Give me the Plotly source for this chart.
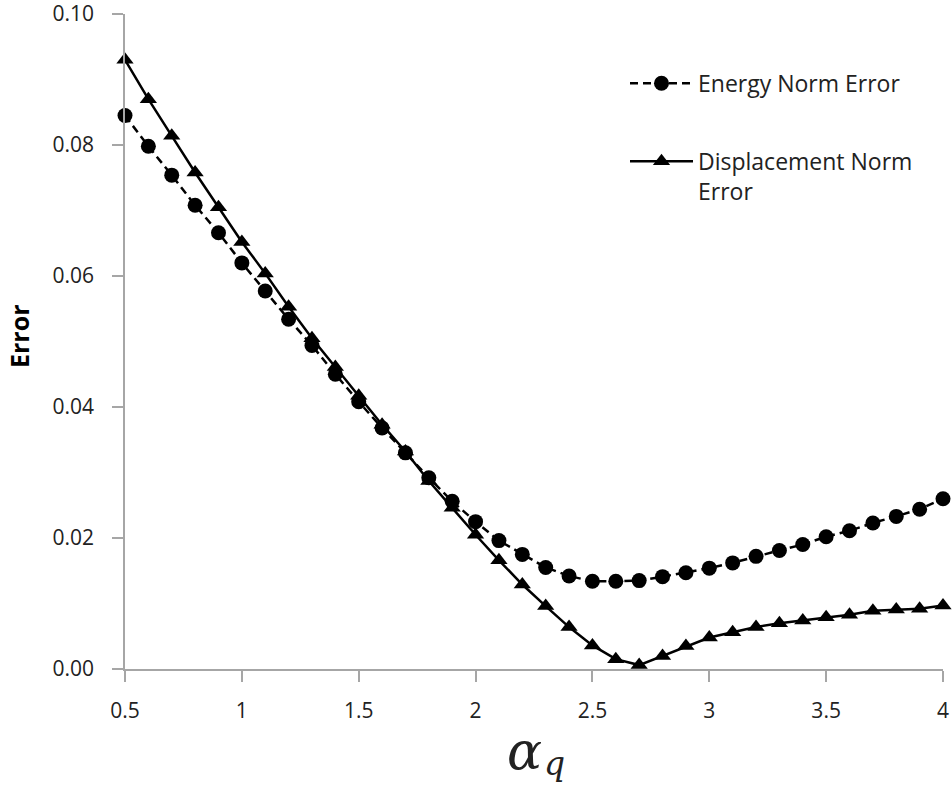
import plotly.graph_objects as go

alpha = [0.5, 0.6, 0.7, 0.8, 0.9, 1.0, 1.1, 1.2, 1.3, 1.4, 1.5, 1.6, 1.7, 1.8, 1.9,
         2.0, 2.1, 2.2, 2.3, 2.4, 2.5, 2.6, 2.7, 2.8, 2.9, 3.0, 3.1, 3.2, 3.3, 3.4,
         3.5, 3.6, 3.7, 3.8, 3.9, 4.0]

energy_err = [0.0845, 0.0798, 0.0754, 0.0708, 0.0666, 0.0620, 0.0577, 0.0534, 0.0494,
              0.0450, 0.0408, 0.0368, 0.0330, 0.0292, 0.0256, 0.0225, 0.0196, 0.0175,
              0.0155, 0.0142, 0.0134, 0.0134, 0.0135, 0.0141, 0.0147, 0.0154, 0.0162,
              0.0172, 0.0181, 0.0190, 0.0202, 0.0211, 0.0223, 0.0233, 0.0244, 0.0260]

disp_err = [0.0930, 0.0870, 0.0814, 0.0758, 0.0705, 0.0652, 0.0604, 0.0553, 0.0505,
            0.0461, 0.0417, 0.0373, 0.0332, 0.0287, 0.0246, 0.0205, 0.0166, 0.0129,
            0.0096, 0.0064, 0.0036, 0.0015, 0.0006, 0.0020, 0.0035, 0.0048, 0.0056,
            0.0064, 0.0070, 0.0074, 0.0079, 0.0083, 0.0089, 0.0091, 0.0092, 0.0097]

x_ticks = [0.5, 1, 1.5, 2, 2.5, 3, 3.5, 4]
x_tick_labels = ["0.5", "1", "1.5", "2", "2.5", "3", "3.5", "4"]
y_ticks = [0.0, 0.02, 0.04, 0.06, 0.08, 0.10]
y_tick_labels = ["0.00", "0.02", "0.04", "0.06", "0.08", "0.10"]

fig = go.Figure()
fig.add_trace(go.Scatter(
    x=alpha, y=energy_err, mode="lines+markers", name="Energy Norm Error",
    legendgroup="g1",
    line=dict(color="black", width=2.5, dash="8px,5px"),
    marker=dict(symbol="circle", size=15, color="black"),
    cliponaxis=False,
))
fig.add_trace(go.Scatter(
    x=alpha, y=disp_err, mode="lines+markers", name="Displacement Norm<br>Error",
    legendgroup="g2",
    line=dict(color="black", width=2.5),
    marker=dict(symbol="triangle-up", size=15, color="black"),
    cliponaxis=False,
))

tick_font = dict(family="Open Sans, Noto Sans, sans-serif", size=21, color="#222")
axis_gray = "#a6a6a6"

fig.update_layout(
    template="none",
    width=952, height=787,
    margin=dict(l=125, r=9, t=14, b=118, pad=0),
    plot_bgcolor="white", paper_bgcolor="white",
    showlegend=True,
    legend=dict(x=(625 - 125) / 818, y=0.927, xanchor="left", yanchor="top",
                font=dict(family="Open Sans, Noto Sans, sans-serif", size=23, color="#222"),
                itemwidth=63, tracegroupgap=45, valign="top",
                bgcolor="rgba(0,0,0,0)", borderwidth=0),
    xaxis=dict(range=[0.5, 4], tickvals=x_ticks, ticktext=x_tick_labels,
               automargin=False, ticklabeloverflow="allow",
               showgrid=False, zeroline=False, showline=True, linecolor=axis_gray,
               linewidth=1.5, ticks="outside", ticklen=11, tickcolor=axis_gray,
               tickwidth=1.5, tickfont=tick_font, ticklabelstandoff=11),
    yaxis=dict(range=[0, 0.1], tickvals=y_ticks, ticktext=y_tick_labels,
               automargin=False, ticklabeloverflow="allow",
               showgrid=False, zeroline=False, showline=True, linecolor=axis_gray,
               linewidth=1.5, ticks="outside", ticklen=11, tickcolor=axis_gray,
               tickwidth=1.5, tickfont=tick_font, ticklabelstandoff=14),
    annotations=[
        dict(text="<b>Error</b>", textangle=-90, xref="paper", yref="paper",
             x=(19 - 125) / 818, y=(669 - 336) / 655, xanchor="center", yanchor="middle",
             showarrow=False,
             font=dict(family="Open Sans, Noto Sans, sans-serif", size=25, color="black")),
        dict(text="<i>α</i>", xref="paper", yref="paper",
             x=(524 - 125) / 818, y=(669 - 751) / 655, showarrow=False,
             xanchor="center", yanchor="middle",
             font=dict(family="DejaVu Serif, serif", size=52, color="#222")),
        dict(text="<i>q</i>", xref="paper", yref="paper",
             x=(554 - 125) / 818, y=(669 - 764) / 655, showarrow=False,
             xanchor="center", yanchor="middle",
             font=dict(family="DejaVu Serif, serif", size=33, color="#222")),
    ],
)

fig.write_html("out.html")
